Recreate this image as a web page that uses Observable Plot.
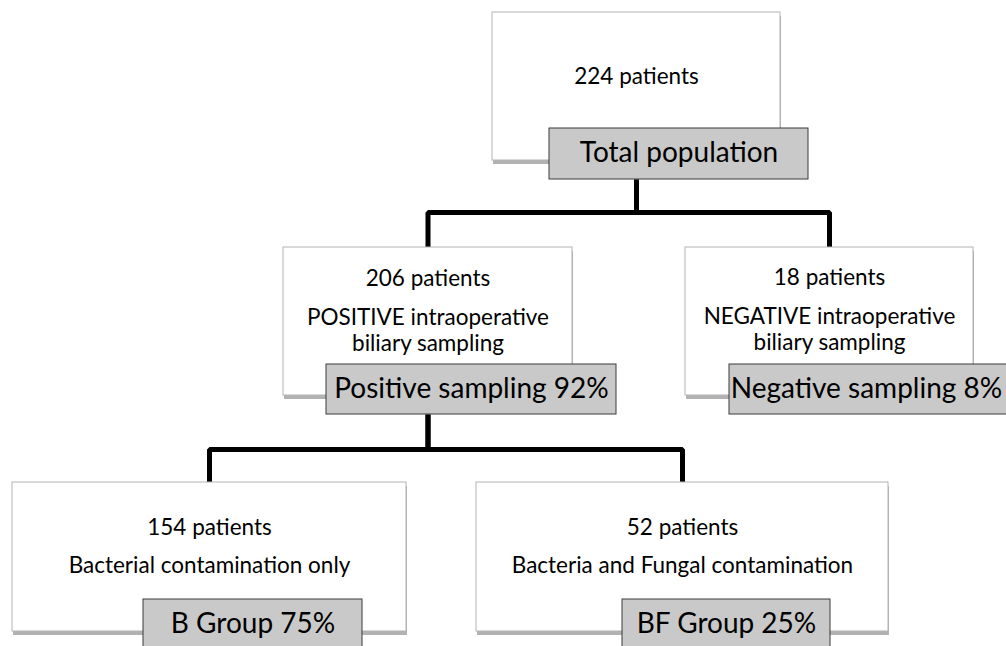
<!DOCTYPE html>
<html><head><meta charset="utf-8">
<script src="https://cdn.jsdelivr.net/npm/d3@7"></script>
<script src="https://cdn.jsdelivr.net/npm/@observablehq/plot@0.6"></script>
<style>body{margin:0;background:#fff;overflow:hidden}</style>
</head><body><div id="chart"></div>
<script>
// ---- data ----
const nodeIds = ["total", "positive", "negative", "bacterial", "fungal"];
const parentIds = [null, "total", "total", "positive", "positive"];
const patientCounts = [224, 206, 18, 154, 52];
const descriptions = [
  [],
  ["POSITIVE intraoperative", "biliary sampling"],
  ["NEGATIVE intraoperative", "biliary sampling"],
  ["Bacterial contamination only"],
  ["Bacteria and Fungal contamination"]
];
const groupLabels = ["Total population", "Positive sampling", "Negative sampling", "B Group", "BF Group"];
const percentages = [null, 92, 8, 75, 25];

// ---- layout (pixel positions of the flowchart boxes) ----
const layout = {
  total:     {box: [492, 780, 12, 160],  tag: [549, 808, 128, 179], countY: 76,  descY: 0,   barY: 212},
  positive:  {box: [283, 572, 247, 395], tag: [326, 616, 364, 414], countY: 278, descY: 317, barY: 449},
  negative:  {box: [685, 973, 247, 395], tag: [729, 1015, 364, 414], countY: 277, descY: 316, tagTextX: 866},
  bacterial: {box: [12, 406, 482, 631],  tag: [143, 362, 599, 652], countY: 527, descY: 565},
  fungal:    {box: [476, 888, 482, 631], tag: [622, 830, 599, 652], countY: 527, descY: 565}
};
const lineGap = 26;

const nodes = nodeIds.map((id, i) => {
  const L = layout[id];
  return {
    id, parent: parentIds[i],
    x1: L.box[0], x2: L.box[1], y1: L.box[2], y2: L.box[3],
    tx1: L.tag[0], tx2: L.tag[1], ty1: L.tag[2], ty2: L.tag[3],
    tagTextX: L.tagTextX ?? (L.tag[0] + L.tag[1]) / 2,
    tagTextY: (L.tag[2] + Math.min(L.tag[3], L.tag[2] + 50)) / 2,
    cx: (L.box[0] + L.box[1]) / 2,
    countY: L.countY, descY: L.descY, barY: L.barY,
    count: `${patientCounts[i]} patients`,
    tagText: percentages[i] == null ? groupLabels[i] : `${groupLabels[i]} ${percentages[i]}%`,
    desc: descriptions[i]
  };
});
const byId = Object.fromEntries(nodes.map(n => [n.id, n]));

const textRows = [];
nodes.forEach(n => {
  textRows.push({x: n.cx, y: n.countY, text: n.count});
  n.desc.forEach((d, j) => textRows.push({x: n.cx, y: n.descY + j * lineGap, text: d}));
});

const edgePoints = [];
nodes.filter(n => n.parent).forEach(c => {
  const p = byId[c.parent];
  edgePoints.push({z: c.id, x: p.cx, y: p.ty2});
  edgePoints.push({z: c.id, x: p.cx, y: p.barY});
  edgePoints.push({z: c.id, x: c.cx, y: p.barY});
  edgePoints.push({z: c.id, x: c.cx, y: c.y1});
});

const font = "Lato, 'Open Sans', sans-serif";

const chart = Plot.plot({
  width: 1006, height: 646, margin: 0,
  x: {domain: [0, 1006], range: [0, 1006], axis: null},
  y: {domain: [0, 646], range: [0, 646], axis: null},
  style: {fontFamily: font, background: "#fff", overflow: "hidden"},
  marks: [
    Plot.line(edgePoints, {x: "x", y: "y", z: "z", stroke: "#000", strokeWidth: 5, strokeLinejoin: "miter", strokeLinecap: "butt"}),
    Plot.rect(nodes, {x1: d => d.x1 + 1, x2: d => d.x2 + 1, y1: d => d.y1 + 4, y2: d => d.y2 + 4, fill: "#000", fillOpacity: 0.3, ariaLabel: "shadow"}),
    Plot.rect(nodes, {x1: "x1", x2: "x2", y1: "y1", y2: "y2", fill: "#fff", stroke: "#b3b3b3", strokeWidth: 1}),
    Plot.text(textRows, {x: "x", y: "y", text: "text", fontSize: 22.5, fill: "#000", fontFamily: font}),
    Plot.rect(nodes, {x1: "tx1", x2: "tx2", y1: "ty1", y2: "ty2", fill: "#c9c9c9", stroke: "#3a3a3a", strokeWidth: 1}),
    Plot.text(nodes, {x: "tagTextX", y: "tagTextY", text: "tagText", fontSize: 28, fill: "#000", fontFamily: font})
  ]
});

// soft drop shadow
const ns = "http://www.w3.org/2000/svg";
const defs = document.createElementNS(ns, "defs");
defs.innerHTML = '<filter id="blur" x="-10%" y="-10%" width="120%" height="130%"><feGaussianBlur stdDeviation="2.5"/></filter>';
chart.insertBefore(defs, chart.firstChild);
const sh = chart.querySelector('g[aria-label="shadow"]');
if (sh) sh.setAttribute("filter", "url(#blur)");

document.getElementById("chart").append(chart);
</script>
</body></html>
